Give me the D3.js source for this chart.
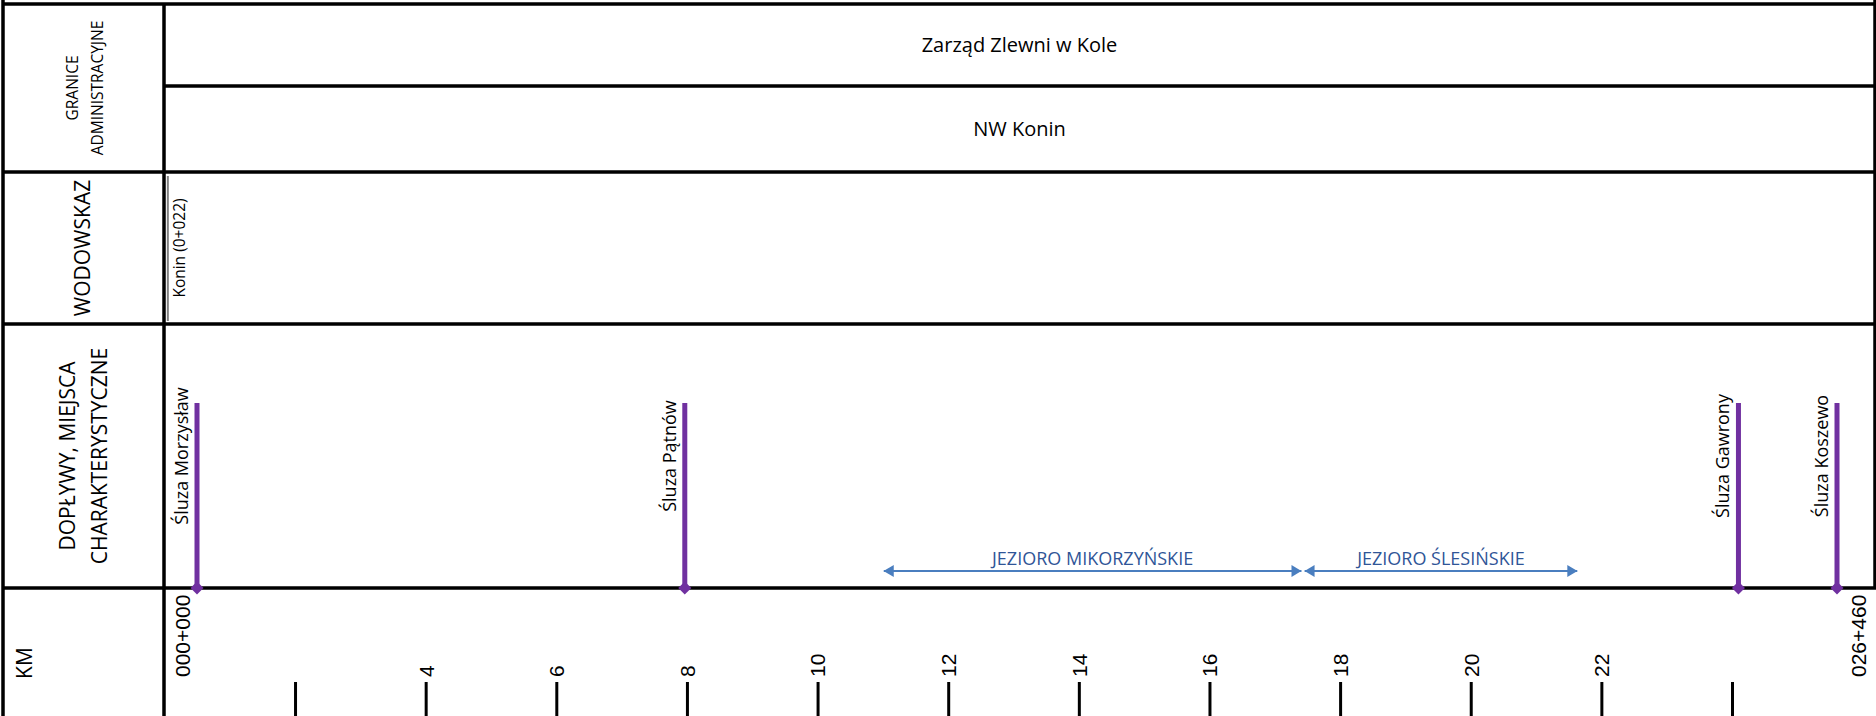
<!DOCTYPE html>
<html>
<head>
<meta charset="utf-8">
<script src="https://cdn.jsdelivr.net/npm/d3@7"></script>
<style>
  body { margin: 0; background: #fff; }
  text { font-family: "Open Sans", sans-serif; fill: #000; }
  .num { font-family: "Liberation Sans", Arial, sans-serif; }
</style>
</head>
<body>
<div id="viz"></div>
<script>
// rows on the left side
var rowTitles = [
  ["GRANICE", "ADMINISTRACYJNE"],
  ["WODOWSKAZ"],
  ["DOPŁYWY, MIEJSCA", "CHARAKTERYSTYCZNE"],
  ["KM"]
];
var adminLevels = ["Zarząd Zlewni w Kole", "NW Konin"];

// gauge (wodowskaz)
var gaugeNames = ["Konin (0+022)"];
var gaugeKm = [0.022];

// locks along the canal
var siteNames = ["Śluza Morzysław", "Śluza Pątnów", "Śluza Gawrony", "Śluza Koszewo"];
var siteKm = [0, 7.87, 24.87, 26.46];

// lakes
var lakeNames = ["JEZIORO MIKORZYŃSKIE", "JEZIORO ŚLESIŃSKIE"];
var lakeStart = [11.08, 17.87];
var lakeEnd = [17.82, 22.27];

// km axis
var kmTicks = [2, 4, 6, 8, 10, 12, 14, 16, 18, 20, 22, 24];
var kmTickLabels = ["", "4", "6", "8", "10", "12", "14", "16", "18", "20", "22", ""];
var kmEnds = ["000+000", "026+460"];
var kmRange = [0, 26.46];

var width = 1876, height = 716;
var xLeft = 3, xDiv = 164, xRight = 1875;
var yTop = 4, yAdmin = 86, yGauge = 172, ySites = 324, yKm = 588;

var svg = d3.select("#viz").append("svg")
  .attr("width", width)
  .attr("height", height);

var kmScale = d3.scaleLinear().domain([0, 24]).range([164.4, 1732]);
var siteScale = d3.scaleLinear().domain(kmRange).range([197, 1837]);

// grid lines
var grid = svg.append("g").attr("stroke", "#000").attr("stroke-width", 3.5);
grid.append("line").attr("x1", xLeft).attr("x2", xLeft).attr("y1", 0).attr("y2", height);
grid.append("line").attr("x1", xDiv).attr("x2", xDiv).attr("y1", yTop).attr("y2", height);
grid.append("line").attr("x1", xRight).attr("x2", xRight).attr("y1", 0).attr("y2", yKm);
[yTop, yGauge, ySites, yKm].forEach(function (y) {
  grid.append("line").attr("x1", xLeft).attr("x2", width).attr("y1", y).attr("y2", y);
});
grid.append("line").attr("x1", xDiv).attr("x2", width).attr("y1", yAdmin).attr("y2", yAdmin);

// row titles (rotated)
var titleCenters = [[85, 88], [83, 248], [84, 456], [25, 663]];
var titleSizes = [15.5, 21, 21, 21];
var titleGaps = [25, 0, 32, 0];
rowTitles.forEach(function (lines, i) {
  var c = titleCenters[i];
  var t = svg.append("text")
    .attr("transform", "translate(" + c[0] + "," + c[1] + ") rotate(-90)")
    .attr("text-anchor", "middle")
    .style("font-size", titleSizes[i] + "px");
  lines.forEach(function (s, j) {
    t.append("tspan")
      .attr("x", 0)
      .attr("y", (j - (lines.length - 1) / 2) * titleGaps[i])
      .attr("dy", "0.35em")
      .text(s);
  });
});

// admin rows
svg.selectAll("text.admin")
  .data(adminLevels)
  .enter()
  .append("text")
  .attr("class", "admin")
  .attr("x", (xDiv + xRight) / 2)
  .attr("y", function (d, i) { return i == 0 ? (yTop + yAdmin) / 2 : (yAdmin + yGauge) / 2; })
  .attr("dy", "0.35em")
  .attr("text-anchor", "middle")
  .style("font-size", "20px")
  .text(function (d) { return d; });

// gauge
gaugeKm.forEach(function (km, i) {
  var gx = kmScale(km) + 2;
  svg.append("line")
    .attr("x1", gx).attr("x2", gx)
    .attr("y1", yGauge + 4).attr("y2", ySites - 3)
    .attr("stroke", "#808080").attr("stroke-width", 2);
  svg.append("text")
    .attr("transform", "translate(" + (gx + 17) + "," + (yGauge + ySites) / 2 + ") rotate(-90)")
    .attr("text-anchor", "middle")
    .style("font-size", "15.5px")
    .text(gaugeNames[i]);
});

// lakes
var defs = svg.append("defs");
defs.append("marker")
  .attr("id", "arr")
  .attr("viewBox", "0 0 10 12")
  .attr("refX", 10).attr("refY", 6)
  .attr("markerWidth", 10).attr("markerHeight", 12)
  .attr("markerUnits", "userSpaceOnUse")
  .attr("orient", "auto-start-reverse")
  .append("path")
  .attr("d", "M0,0L10,6L0,12Z")
  .attr("fill", "#4A7EBF");

var yLake = 571;
lakeNames.forEach(function (name, i) {
  svg.append("line")
    .attr("x1", siteScale(lakeStart[i])).attr("x2", siteScale(lakeEnd[i]))
    .attr("y1", yLake).attr("y2", yLake)
    .attr("stroke", "#4A7EBF").attr("stroke-width", 2)
    .attr("marker-start", "url(#arr)")
    .attr("marker-end", "url(#arr)");
  svg.append("text")
    .attr("x", (siteScale(lakeStart[i]) + siteScale(lakeEnd[i])) / 2)
    .attr("y", yLake - 6)
    .attr("text-anchor", "middle")
    .style("font-size", "18px")
    .style("fill", "#2F5597")
    .text(name);
});

// locks
var sites = svg.append("g");
siteNames.forEach(function (name, i) {
  var sx = siteScale(siteKm[i]);
  sites.append("line")
    .attr("x1", sx).attr("x2", sx)
    .attr("y1", 403).attr("y2", yKm)
    .attr("stroke", "#7030A0").attr("stroke-width", 5);
  sites.append("path")
    .attr("d", d3.symbol(d3.symbolSquare, 85)())
    .attr("transform", "translate(" + sx + "," + yKm + ") rotate(45)")
    .attr("fill", "#7030A0");
  sites.append("text")
    .attr("transform", "translate(" + (sx - 9) + "," + (ySites + yKm) / 2 + ") rotate(-90)")
    .attr("text-anchor", "middle")
    .style("font-size", "18px")
    .text(name);
});

// km axis
var kmAxis = d3.axisTop(kmScale)
  .tickValues(kmTicks)
  .tickSize(34)
  .tickFormat(function (d, i) { return kmTickLabels[i]; });

var ax = svg.append("g")
  .attr("transform", "translate(0," + height + ")")
  .call(kmAxis);
ax.select(".domain").remove();
ax.selectAll(".tick line").attr("stroke", "#000").attr("stroke-width", 3);
ax.selectAll(".tick text")
  .attr("class", "num")
  .attr("transform", "rotate(-90)")
  .attr("x", 39)
  .attr("y", 0)
  .attr("dy", "0.35em")
  .attr("text-anchor", "start")
  .attr("fill", "#000")
  .style("font-size", "21px");

// chainage at both ends
svg.selectAll("text.end")
  .data(kmEnds)
  .enter()
  .append("text")
  .attr("class", "num")
  .attr("transform", function (d, i) {
    var x = i == 0 ? xDiv + 19 : xRight - 16;
    return "translate(" + x + "," + (height - 39) + ") rotate(-90)";
  })
  .attr("dy", "0.35em")
  .attr("text-anchor", "start")
  .style("font-size", "21px")
  .text(function (d) { return d; });
</script>
</body>
</html>
